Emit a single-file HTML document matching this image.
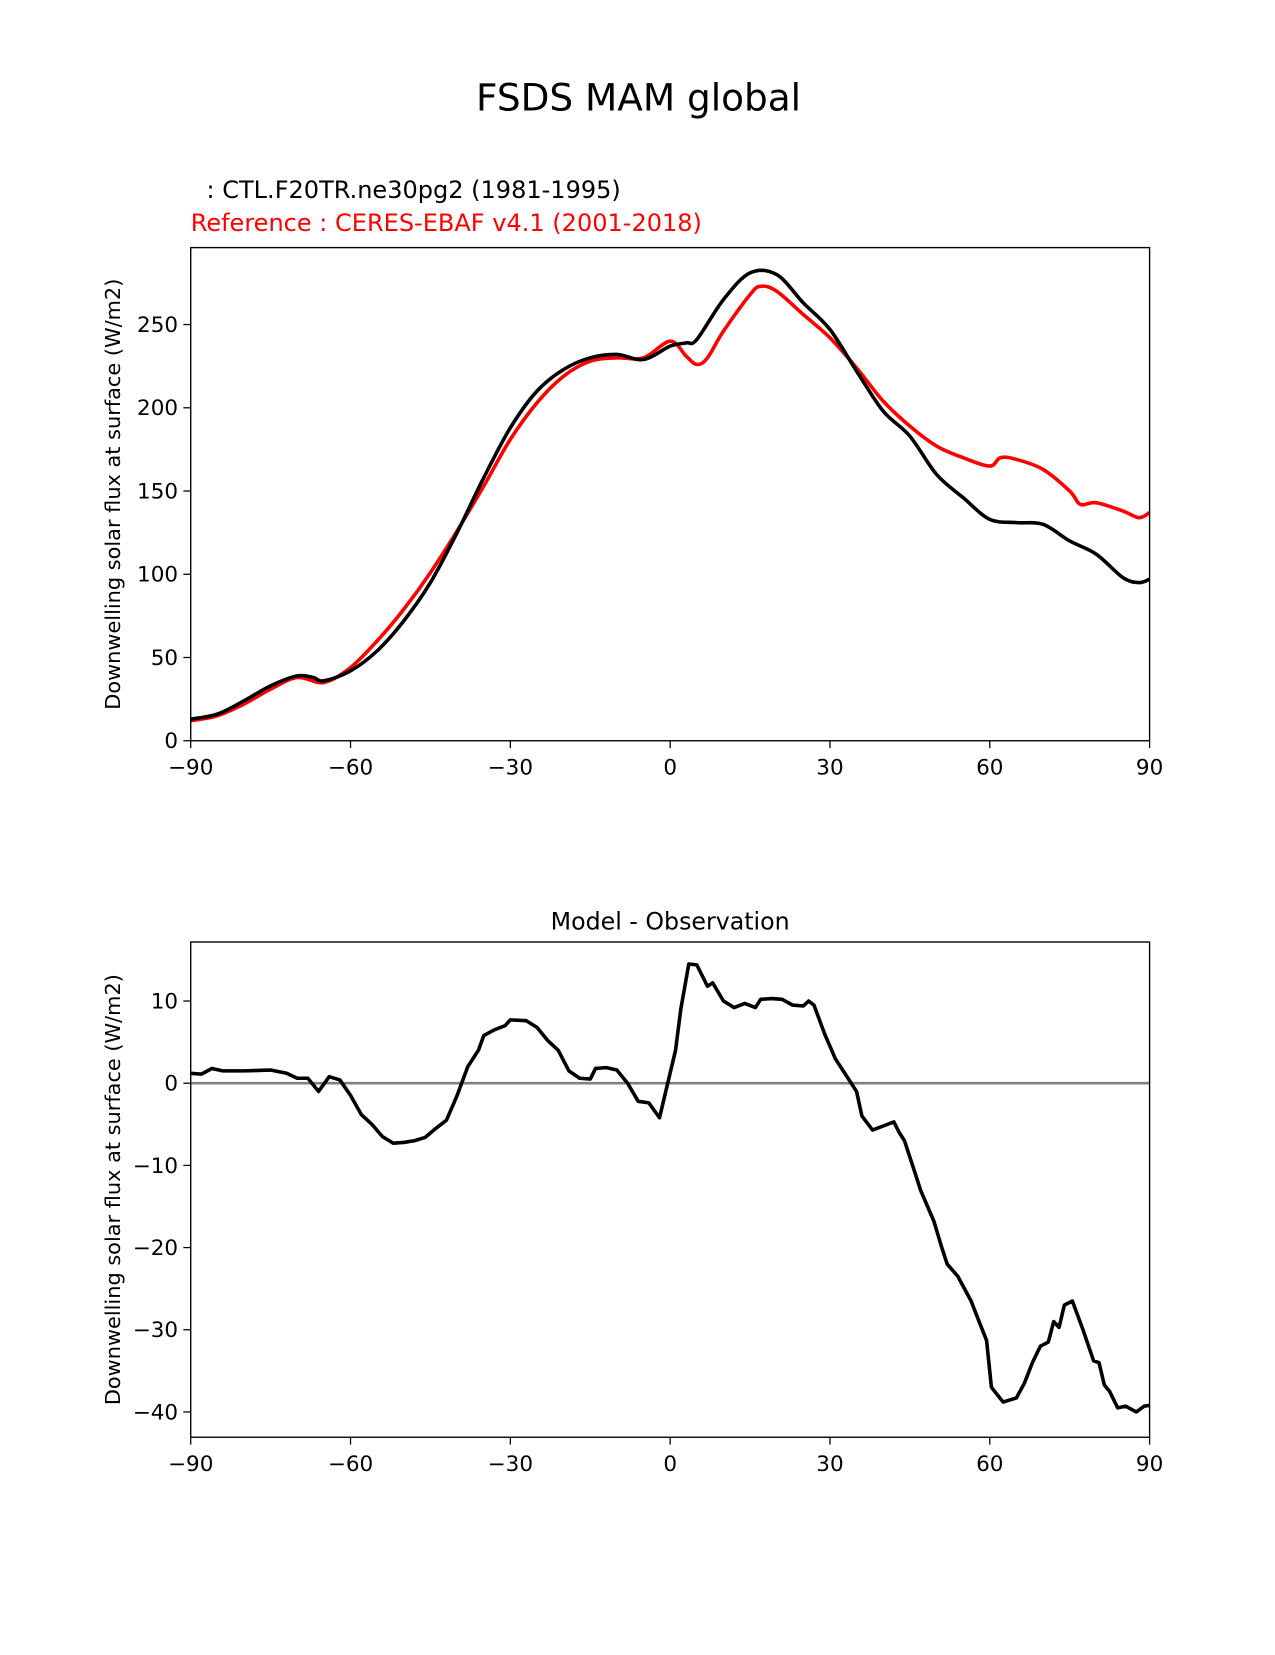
<!DOCTYPE html>
<html><head><meta charset="utf-8">
<style>
html,body{margin:0;padding:0;background:#fff;overflow:hidden;}
svg text{font-family:"DejaVu Sans","Liberation Sans",sans-serif;}
</style></head>
<body>
<svg id="fig" width="1275" height="1650" viewBox="0 0 1275 1650" xmlns="http://www.w3.org/2000/svg">
<rect width="1275" height="1650" fill="#fff"/>
<g transform="scale(1.0537)">
<text x="606" y="105" font-size="35.5" text-anchor="middle">FSDS MAM global</text>
<text x="196" y="188" font-size="22.8">: CTL.F20TR.ne30pg2 (1981-1995)</text>
<text x="181" y="219" font-size="22.8" fill="#ff0000">Reference : CERES-EBAF v4.1 (2001-2018)</text>
<g id="top"></g>
<g id="bot"></g>
</g>
</svg>
<script>
const modelLats=[-90,-85,-80,-75,-70,-67,-65,-60,-55,-50,-45,-40,-35,-30,-25,-20,-15,-10,-5,0,3,5,10,15,20,25,30,35,40,45,50,55,60,65,70,75,80,85,88,90];
const modelVals=[13,16,24,33,39,38,36,42,54,72,95,125,158,188,210,223,230,232,229,237,239,241,265,281,280,263,247,222,198,183,160,146,133,131,130,120,112,98,95,97];
const obsLats=[-90,-85,-80,-75,-70,-65,-60,-55,-50,-45,-40,-35,-30,-25,-20,-15,-10,-5,0,3,5,7,10,15,17,20,25,30,35,40,45,50,55,60,62,65,70,75,77,80,85,88,90];
const obsVals=[12,15,22,31,38,35,44,60,79,101,126,153,181,203,219,228,230,230,240,231,226,230,246,268,273,270,256,242,224,204,189,177,170,165,170,169,163,150,142,143,138,134,137];
const diffLats=[-90,-88,-86,-84,-80,-75,-72,-70,-68,-66,-64,-62,-60,-58,-56,-54,-52,-50,-48,-46,-44,-42,-40,-38,-36,-35,-33,-31,-30,-27,-25,-23,-21,-19,-17,-15,-14,-12,-10,-8,-6,-4,-2,-1,1,2,3.5,5,7,8,10,12,14,16,17,19,21,23,25,26,27,29,31,33,35,36,38,40,42,43,44,45,46,47,49.5,51,52,54,56.5,58,59.4,60.3,62.5,65,66.5,68,69.5,71,72,73,74,75.5,77.5,79.5,80.5,81.5,82.5,84,85.5,87.5,89,90];
const diffVals=[1.2,1.1,1.8,1.5,1.5,1.6,1.2,0.6,0.6,-1,0.8,0.4,-1.5,-3.8,-5,-6.5,-7.3,-7.2,-7,-6.6,-5.5,-4.5,-1.5,2,4,5.8,6.5,7.0,7.7,7.6,6.8,5.2,4.0,1.5,0.6,0.5,1.8,1.9,1.6,0,-2.2,-2.4,-4.2,-1.5,4,9,14.5,14.4,11.8,12.2,10,9.2,9.7,9.2,10.2,10.3,10.2,9.5,9.4,10,9.5,6,3,1,-1,-4,-5.7,-5.2,-4.7,-6,-7,-9,-11,-13,-16.8,-20,-22,-23.5,-26.5,-29,-31.3,-37,-38.8,-38.3,-36.5,-34,-32,-31.5,-29,-29.7,-27,-26.5,-30,-33.8,-34,-36.7,-37.5,-39.5,-39.3,-40,-39.3,-39.2];
const xTicks=[-90,-60,-30,0,30,60,90];
const xTickLabels=["\u221290","\u221260","\u221230","0","30","60","90"];
const topYTicks=[0,50,100,150,200,250];
const botYTicks=[-40,-30,-20,-10,0,10];
const botYTickLabels=["\u221240","\u221230","\u221220","\u221210","0","10"];

const NS="http://www.w3.org/2000/svg";
function mk(parent,tag,attrs){const e=document.createElementNS(NS,tag);for(const k in attrs)e.setAttribute(k,attrs[k]);parent.appendChild(e);return e;}
const L=181,R=1091;
const xs=v=>L+(v+90)/180*(R-L);

function axes(g,top,bot,ymin,ymax,yticks,ylabels,ylab,prefix){
  const ys=v=>bot-(v-ymin)/(ymax-ymin)*(bot-top);
  xTicks.forEach((t,i)=>{
    const tk=mk(g,'line',{x1:xs(t),x2:xs(t),y1:bot,y2:bot+7,stroke:'#000','stroke-width':1.2});
    
    
    const tx=mk(g,'text',{x:xs(t),y:bot+32,'font-size':20.4,'text-anchor':'middle'});
    tx.textContent=xTickLabels[i];
    
    
  });
  yticks.forEach((t,i)=>{
    const tk=mk(g,'line',{x1:L-7,x2:L,y1:ys(t),y2:ys(t),stroke:'#000','stroke-width':1.2});
    
    
    const tx=mk(g,'text',{x:L-12,y:ys(t)+7,'font-size':20.4,'text-anchor':'end'});
    tx.textContent=ylabels[i];
    
    
  });
  const yl=mk(g,'text',{x:0,y:0,'font-size':19.8,'text-anchor':'middle',transform:`translate(114,${(top+bot)/2}) rotate(-90)`});
  yl.textContent=ylab;
  
  
  return ys;
}
function series(g,lats,vals,ys,color,w,name,smooth){
  const P=lats.map((la,i)=>[xs(la),ys(vals[i])]);
  let d='M'+P[0][0].toFixed(1)+','+P[0][1].toFixed(1);
  for(let i=0;i<P.length-1;i++){
    if(!smooth){d+=' L'+P[i+1][0].toFixed(1)+','+P[i+1][1].toFixed(1);continue;}
    const p0=P[Math.max(0,i-1)],p1=P[i],p2=P[i+1],p3=P[Math.min(P.length-1,i+2)];
    const c1=[p1[0]+(p2[0]-p0[0])/6,p1[1]+(p2[1]-p0[1])/6];
    const c2=[p2[0]-(p3[0]-p1[0])/6,p2[1]-(p3[1]-p1[1])/6];
    d+=' C'+c1[0].toFixed(1)+','+c1[1].toFixed(1)+' '+c2[0].toFixed(1)+','+c2[1].toFixed(1)+' '+p2[0].toFixed(1)+','+p2[1].toFixed(1);
  }
  const p=mk(g,'path',{d:d,fill:'none',stroke:color,'stroke-width':w,'stroke-linejoin':'round'});
  
  
}
// top
const gt=document.getElementById('top');
const T1=235,B1=703,ymin1=0,ymax1=(703-235)/1.58;
const ys1=axes(gt,T1,B1,ymin1,ymax1,topYTicks,topYTicks.map(String),'Downwelling solar flux at surface (W/m2)','top-');
series(gt,obsLats,obsVals,ys1,'#ff0000',3.4,'obs-line',true);
series(gt,modelLats,modelVals,ys1,'#000',3.4,'model-line',true);
const f1=mk(gt,'rect',{x:L,y:T1,width:R-L,height:B1-T1,fill:'none',stroke:'#000','stroke-width':1.3});


// bottom
const gb=document.getElementById('bot');
const T2=894,B2=1364;
const ymax2=(1028-894)/7.8,ymin2=-(1364-1028)/7.8;
const ys2=axes(gb,T2,B2,ymin2,ymax2,botYTicks,botYTickLabels,'Downwelling solar flux at surface (W/m2)','bottom-');
const zl=mk(gb,'line',{x1:L,x2:R,y1:ys2(0),y2:ys2(0),stroke:'#808080','stroke-width':2.5});


series(gb,diffLats,diffVals,ys2,'#000',3.4,'difference-line',false);
const f2=mk(gb,'rect',{x:L,y:T2,width:R-L,height:B2-T2,fill:'none',stroke:'#000','stroke-width':1.3});


const st=mk(gb,'text',{x:636,y:882,'font-size':22.5,'text-anchor':'middle'});
st.textContent='Model - Observation';


</script>
</body></html>
